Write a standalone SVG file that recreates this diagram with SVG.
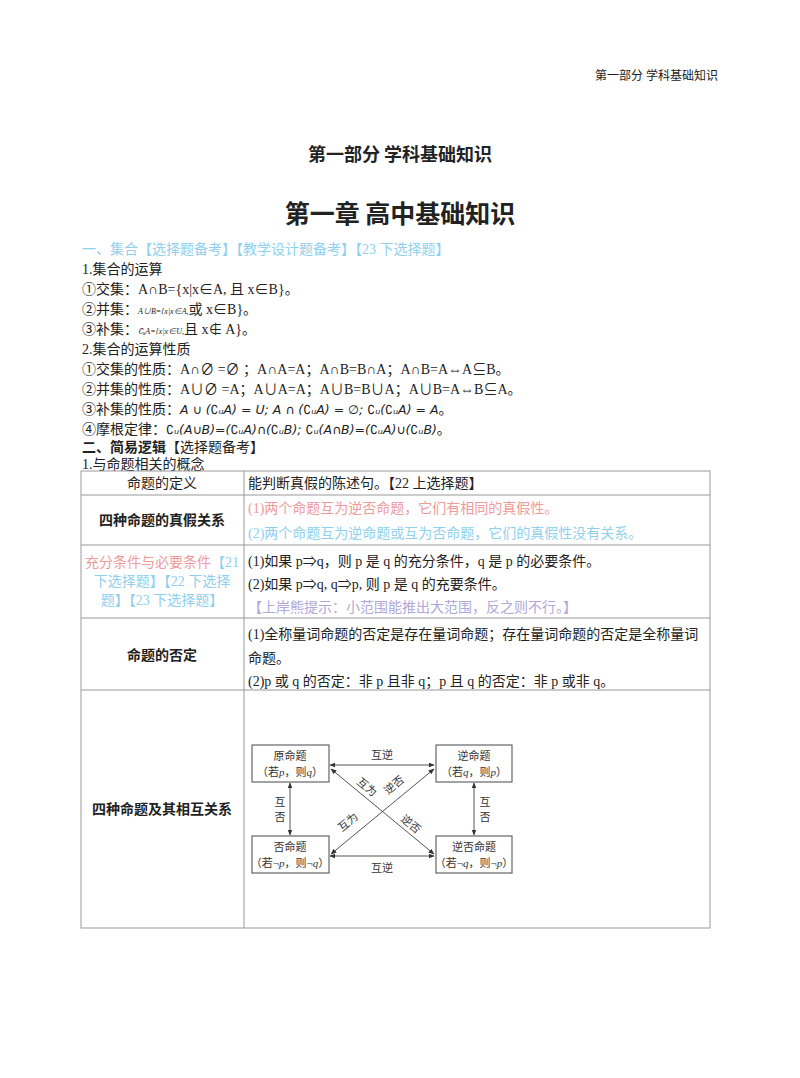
<svg xmlns="http://www.w3.org/2000/svg" width="800" height="1078" viewBox="0 0 800 1078">
<defs>
<style>
text{font-family:"Liberation Serif","Noto Sans CJK SC",serif;font-size:14px;fill:#222}
.b{font-family:"Noto Sans CJK SC",sans-serif;font-weight:bold}
.blue{fill:#8fd0ee}.pink{fill:#f09a9a}.purple{fill:#b0a8d8}
.m{font-family:"DejaVu Sans","Noto Sans CJK SC",sans-serif;font-size:12.5px}
.cell{fill:none;stroke:#999;stroke-width:1}
.box{fill:#fff;stroke:#666;stroke-width:1.2}
.ln{stroke:#555;stroke-width:1;fill:none}
.s{font-size:11px;fill:#333}
</style>
<marker id="ar" viewBox="0 0 10 10" refX="9" refY="5" markerWidth="6" markerHeight="6" orient="auto-start-reverse"><path d="M0,1 L10,5 L0,9 z" fill="#333"/></marker>
</defs>
<rect width="800" height="1078" fill="#fff"/>
<text x="718" y="80" text-anchor="end" style="font-size:12px">第一部分  学科基础知识</text>
<text x="400" y="161" text-anchor="middle" class="b" style="font-size:18px">第一部分 学科基础知识</text>
<text x="400" y="223" text-anchor="middle" class="b" style="font-size:25px">第一章  高中基础知识</text>
<text x="82" y="254" class="blue">一、集合【选择题备考】【教学设计题备考】【23 下选择题】</text>
<text x="82" y="274">1.集合的运算</text>
<text x="82" y="294">①交集：A∩B={x|x∈A, 且 x∈B}。</text>
<text x="82" y="314">②并集：<tspan style="font-size:8px;font-style:italic">A∪B={x|x∈A,</tspan>或 x∈B}。</text>
<text x="82" y="334">③补集：<tspan style="font-size:8px;font-style:italic">∁ᵤA={x|x∈U,</tspan>且 x∉ A}。</text>
<text x="82" y="354">2.集合的运算性质</text>
<text x="82" y="374">①交集的性质：A∩∅ =∅ ；A∩A=A；A∩B=B∩A；A∩B=A⇔A⊆B。</text>
<text x="82" y="394">②并集的性质：A∪∅ =A；A∪A=A；A∪B=B∪A；A∪B=A⇔B⊆A。</text>
<text x="82" y="414">③补集的性质：<tspan class="m" font-style="italic">A ∪ (∁ᵤA) = U; A ∩ (∁ᵤA) = ∅; ∁ᵤ(∁ᵤA) = A</tspan>。</text>
<text x="82" y="434">④摩根定律：<tspan class="m" font-style="italic">∁ᵤ(A∪B)=(∁ᵤA)∩(∁ᵤB); ∁ᵤ(A∩B)=(∁ᵤA)∪(∁ᵤB)</tspan>。</text>
<text x="82" y="452" class="b">二、简易逻辑<tspan style="font-weight:normal">【选择题备考】</tspan></text>
<text x="82" y="469">1.与命题相关的概念</text>
<g id="table">
<rect class="cell" x="81" y="471" width="629" height="457"/>
<line class="cell" x1="244" y1="471" x2="244" y2="928"/>
<line class="cell" x1="81" y1="495" x2="710" y2="495"/>
<line class="cell" x1="81" y1="545" x2="710" y2="545"/>
<line class="cell" x1="81" y1="618" x2="710" y2="618"/>
<line class="cell" x1="81" y1="690" x2="710" y2="690"/>
</g>
<text x="162" y="488" text-anchor="middle">命题的定义</text>
<text x="248" y="488">能判断真假的陈述句。【22 上选择题】</text>
<text x="162" y="525" text-anchor="middle" class="b">四种命题的真假关系</text>
<text x="248" y="513" class="pink">(1)两个命题互为逆否命题，它们有相同的真假性。</text>
<text x="248" y="538" class="blue">(2)两个命题互为逆命题或互为否命题，它们的真假性没有关系。</text>
<text x="162" y="567" text-anchor="middle"><tspan class="pink">充分条件与必要条件</tspan><tspan class="blue">【21</tspan></text>
<text x="162" y="586" text-anchor="middle" class="blue">下选择题】【22 下选择</text>
<text x="162" y="605" text-anchor="middle" class="blue">题】【23 下选择题】</text>
<text x="248" y="566">(1)如果 p⇒q，则 p 是 q 的充分条件，q 是 p 的必要条件。</text>
<text x="248" y="589">(2)如果 p⇒q, q⇒p, 则 p 是 q 的充要条件。</text>
<text x="248" y="612" class="purple">【上岸熊提示：小范围能推出大范围，反之则不行。】</text>
<text x="162" y="660" text-anchor="middle" class="b">命题的否定</text>
<text x="248" y="639">(1)全称量词命题的否定是存在量词命题；存在量词命题的否定是全称量词</text>
<text x="248" y="663">命题。</text>
<text x="248" y="686">(2)p 或 q 的否定：非 p 且非 q；p 且 q 的否定：非 p 或非 q。</text>
<text x="162" y="814" text-anchor="middle" class="b">四种命题及其相互关系</text>
<g id="connectors">
<line class="ln" x1="330" y1="765" x2="434" y2="765" marker-start="url(#ar)" marker-end="url(#ar)"/>
<line class="ln" x1="330" y1="856" x2="434" y2="856" marker-start="url(#ar)" marker-end="url(#ar)"/>
<line class="ln" x1="290" y1="783" x2="290" y2="835" marker-start="url(#ar)" marker-end="url(#ar)"/>
<line class="ln" x1="474" y1="783" x2="474" y2="835" marker-start="url(#ar)" marker-end="url(#ar)"/>
<line class="ln" x1="331" y1="769" x2="434" y2="854" marker-start="url(#ar)" marker-end="url(#ar)"/>
<line class="ln" x1="331" y1="854" x2="434" y2="769" marker-start="url(#ar)" marker-end="url(#ar)"/>
</g>
<text class="s" x="382" y="759" text-anchor="middle">互逆</text>
<text class="s" x="382" y="872" text-anchor="middle">互逆</text>
<text class="s" x="280" y="806" text-anchor="middle">互</text>
<text class="s" x="280" y="821" text-anchor="middle">否</text>
<text class="s" x="485" y="806" text-anchor="middle">互</text>
<text class="s" x="485" y="821" text-anchor="middle">否</text>
<text class="s" x="356" y="783" transform="rotate(40 356 783)">互为</text>
<text class="s" x="388" y="795" transform="rotate(-40 388 795)">逆否</text>
<text class="s" x="342" y="832" transform="rotate(-40 342 832)">互为</text>
<text class="s" x="400" y="820" transform="rotate(40 400 820)">逆否</text>
<g id="n1"><rect class="box" x="252" y="745" width="77" height="37"/><text class="s" x="290" y="760" text-anchor="middle">原命题</text><text class="s" x="290" y="776" text-anchor="middle">（若<tspan font-style="italic">p</tspan>，则<tspan font-style="italic">q</tspan>）</text></g>
<g id="n2"><rect class="box" x="436" y="745" width="76" height="37"/><text class="s" x="474" y="760" text-anchor="middle">逆命题</text><text class="s" x="474" y="776" text-anchor="middle">（若<tspan font-style="italic">q</tspan>，则<tspan font-style="italic">p</tspan>）</text></g>
<g id="n3"><rect class="box" x="252" y="836" width="77" height="37"/><text class="s" x="290" y="851" text-anchor="middle">否命题</text><text class="s" x="290" y="867" text-anchor="middle">（若¬<tspan font-style="italic">p</tspan>，则¬<tspan font-style="italic">q</tspan>）</text></g>
<g id="n4"><rect class="box" x="436" y="836" width="76" height="37"/><text class="s" x="474" y="851" text-anchor="middle">逆否命题</text><text class="s" x="474" y="867" text-anchor="middle">（若¬<tspan font-style="italic">q</tspan>，则¬<tspan font-style="italic">p</tspan>）</text></g>
</svg>
